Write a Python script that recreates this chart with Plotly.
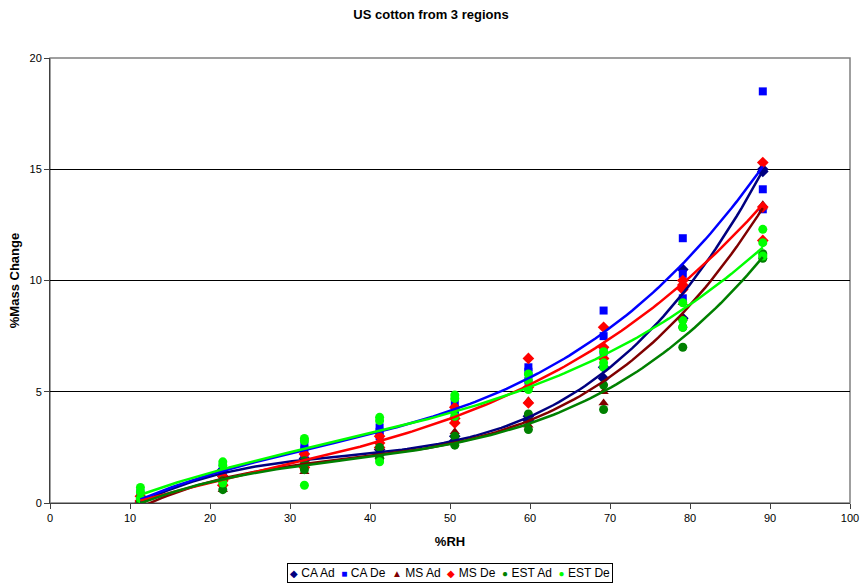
import numpy as np
import plotly.graph_objects as go

# relative humidity levels (%RH)
rh = [11.3, 21.6, 31.8, 41.2, 50.6, 59.8, 69.2, 79.1, 89.1]

# %mass change, replicate runs per series
ca_ad = [
    [0.05, 1.5, 2.0, 2.4, 3.0, 3.9, 6.1, 10.5, 14.9],
    [0.0, 1.2, 1.7, 2.2, 2.8, 3.7, 5.6, 8.3, 15.0],
]
ca_de = [
    [0.45, 1.6, 2.6, 3.4, 4.5, 6.1, 8.65, 11.9, 18.5],
    [0.2, 1.4, 2.4, 3.2, 4.2, 5.9, 7.5, 9.2, 14.1],
    [0.0, 1.1, 2.0, 3.0, 3.9, 5.5, 6.8, 10.3, 13.2],
]
ms_ad = [
    [0.05, 0.9, 1.8, 2.5, 3.2, 4.6, 5.0, 9.0, 13.4],
    [0.0, 0.6, 1.4, 2.1, 2.8, 3.5, 4.5, 8.3, 13.3],
]
ms_de = [
    [0.3, 1.2, 2.2, 3.0, 3.8, 6.5, 7.9, 10.0, 15.3],
    [0.1, 1.0, 1.9, 2.7, 3.6, 5.2, 7.0, 9.8, 13.3],
    [0.0, 0.8, 1.6, 2.5, 4.3, 4.5, 6.5, 9.6, 11.8],
]
est_ad = [
    [0.2, 1.0, 1.9, 2.5, 3.0, 4.0, 5.3, 7.9, 11.0],
    [0.05, 0.6, 1.5, 2.0, 2.6, 3.3, 4.2, 7.0, 11.2],
]
est_de = [
    [0.7, 1.85, 2.9, 3.85, 4.85, 5.8, 6.8, 9.0, 12.3],
    [0.5, 1.7, 2.8, 3.7, 4.7, 5.5, 6.3, 8.2, 11.7],
    [0.2, 0.9, 0.8, 1.85, 3.9, 5.1, 6.1, 7.9, 11.1],
]

series = [
    ("CA Ad", ca_ad, "#000080", "diamond", 9, "◆"),
    ("CA De", ca_de, "#0000FF", "square", 8, "■"),
    ("MS Ad", ms_ad, "#800000", "triangle-up", 9, "▲"),
    ("MS De", ms_de, "#FF0000", "diamond", 9, "◆"),
    ("EST Ad", est_ad, "#008000", "circle", 9, "●"),
    ("EST De", est_de, "#00FF00", "circle", 9, "●"),
]

fig = go.Figure()

for name, runs, color, symbol, size, glyph in series:
    xs = rh * len(runs)
    ys = [v for r in runs for v in r]
    fig.add_trace(go.Scatter(x=xs, y=ys, mode="markers", name=name,
                             marker=dict(color=color, symbol=symbol, size=size)))

# polynomial trendlines (order 3), like the spreadsheet
for name, runs, color, symbol, size, glyph in series:
    xs = np.array(rh * len(runs))
    ys = np.array([v for r in runs for v in r])
    coef = np.polyfit(xs, ys, 3)
    xx = np.linspace(min(rh), max(rh), 120)
    fig.add_trace(go.Scatter(x=xx, y=np.polyval(coef, xx), mode="lines",
                             line=dict(color=color, width=2.5),
                             showlegend=False, hoverinfo="skip"))

# compact boxed legend, like the spreadsheet one
legend_text = "\u00a0\u00a0".join(
    f'<span style="color:{c};font-size:10px">{g}</span> {n}'
    for n, _, c, _, _, g in series)
fig.add_annotation(text=legend_text, xref="paper", yref="paper", x=0.5, y=-0.157,
                   xanchor="center", yanchor="middle", showarrow=False,
                   font=dict(size=12), bordercolor="black", borderwidth=1,
                   borderpad=2, bgcolor="white")

fig.update_layout(
    width=862, height=585,
    margin=dict(l=50, r=12, t=58, b=82),
    paper_bgcolor="white", plot_bgcolor="white",
    font=dict(family="Liberation Sans, Arial", size=11, color="black"),
    title=dict(text="<b>US cotton from 3 regions</b>", x=0.5, xanchor="center",
               y=0.976, yanchor="middle", font=dict(size=13)),
    showlegend=False,
)

fig.update_xaxes(range=[0, 100], dtick=10, showline=True, linecolor="#404040",
                 ticks="outside", ticklen=5, tickcolor="#404040", showgrid=False,
                 zeroline=False, automargin=False,
                 title=dict(text="<b>%RH</b>", standoff=13),
                 tickfont=dict(size=11))
fig.update_yaxes(range=[0, 20], dtick=5, showline=True, linecolor="#404040",
                 ticks="outside", ticklen=5, tickcolor="#404040", showgrid=True,
                 gridcolor="black", gridwidth=1, zeroline=False, automargin=False,
                 title=dict(text="<b>%Mass Change</b>", standoff=6),
                 tickfont=dict(size=11))

# gray plot-area frame on the top and right
fig.add_shape(type="rect", xref="paper", yref="paper", x0=0, y0=0, x1=1, y1=1,
              line=dict(color="#808080", width=1.5), layer="below")

fig.write_html("out.html", config={"displayModeBar": False},
               post_script="document.body.style.margin='0';document.body.style.overflow='hidden';")
